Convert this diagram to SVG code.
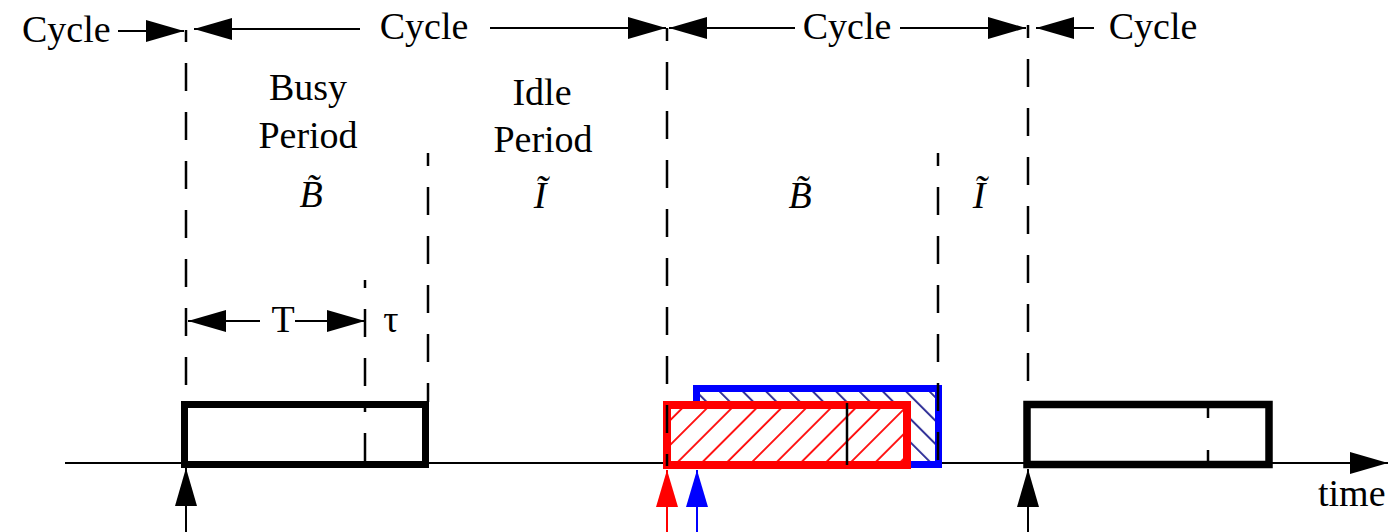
<svg xmlns="http://www.w3.org/2000/svg" width="1393" height="532" viewBox="0 0 1393 532">
<style>
.t{font-family:"Liberation Serif","Times New Roman",serif;font-size:38px;fill:#000}
.ti{font-family:"Liberation Serif","Times New Roman",serif;font-size:38px;font-style:italic;fill:#000}
.ln{stroke:#000;stroke-width:2;fill:none}
.dash{stroke:#000;stroke-width:2.5;fill:none;stroke-dasharray:28 21}
.tick{stroke:#000;stroke-width:2.5;fill:none}
.arr{marker-end:url(#ah)}
</style>
<defs>
<marker id="ah" markerUnits="userSpaceOnUse" markerWidth="40" markerHeight="24" refX="38" refY="11" orient="auto">
<path d="M0,0 L38,11 L0,22 z" fill="#000"/>
</marker>
<marker id="ahR" markerUnits="userSpaceOnUse" markerWidth="40" markerHeight="24" refX="37" refY="11" orient="auto">
<path d="M0,0 L37,11 L0,22 z" fill="#ff0000"/>
</marker>
<marker id="ahB" markerUnits="userSpaceOnUse" markerWidth="40" markerHeight="24" refX="37" refY="11" orient="auto">
<path d="M0,0 L37,11 L0,22 z" fill="#0000ff"/>
</marker>
<pattern id="hatchRed" patternUnits="userSpaceOnUse" width="17.5" height="17.5" patternTransform="rotate(45)">
<rect width="17.5" height="17.5" fill="#fff"/>
<line x1="1" y1="0" x2="1" y2="17.5" stroke="#ff0000" stroke-width="1.8"/>
</pattern>
<pattern id="hatchBlue" patternUnits="userSpaceOnUse" width="16.5" height="16.5" patternTransform="rotate(-45)">
<rect width="16.5" height="16.5" fill="#fff"/>
<line x1="1" y1="0" x2="1" y2="16.5" stroke="#333399" stroke-width="2"/>
</pattern>
</defs>
<rect width="1393" height="532" fill="#fff"/>

<g id="connectors">
<line class="ln arr" x1="118" y1="31" x2="184" y2="31"/>
<line class="ln arr" x1="360" y1="29" x2="194" y2="29"/>
<line class="ln arr" x1="490" y1="28" x2="666" y2="28"/>
<line class="ln arr" x1="795" y1="28" x2="669" y2="28"/>
<line class="ln arr" x1="900" y1="28" x2="1026" y2="28"/>
<line class="ln arr" x1="1094" y1="28" x2="1036" y2="28"/>
<line class="ln arr" x1="260" y1="321" x2="188" y2="321"/>
<line class="ln arr" x1="295" y1="321" x2="365" y2="321"/>
<line class="dash" x1="186" y1="30" x2="186" y2="404" stroke-dashoffset="16"/>
<line class="dash" x1="428" y1="153" x2="428" y2="402" stroke-dashoffset="15"/>
<line class="dash" x1="1028" y1="25" x2="1028" y2="404" stroke-dashoffset="15"/>
<line class="dash" x1="365" y1="280" x2="365" y2="404" stroke-dashoffset="20"/>
<line class="ln arr" x1="65" y1="463" x2="1388" y2="463"/>
<line class="ln arr" x1="186" y1="532" x2="186" y2="468"/>
<line class="ln arr" x1="1028" y1="532" x2="1028" y2="469"/>
<line x1="667" y1="532" x2="667" y2="470" stroke="#ff0000" stroke-width="2" marker-end="url(#ahR)"/>
<line x1="697" y1="532" x2="697" y2="470" stroke="#0000ff" stroke-width="2" marker-end="url(#ahB)"/>
</g>

<g id="busy1">
<rect x="184.5" y="404.5" width="241" height="60" fill="none" stroke="#000" stroke-width="7"/>
<line class="dash" x1="365" y1="404" x2="365" y2="465" stroke-dashoffset="20"/>
</g>

<g id="blue-busy">
<rect x="696.5" y="388.5" width="242" height="76" fill="url(#hatchBlue)" stroke="#0000ff" stroke-width="7"/>
</g>

<g id="red-busy">
<rect x="667" y="405" width="240" height="60" fill="url(#hatchRed)" stroke="#ff0000" stroke-width="8"/>
<line class="tick" x1="847" y1="403" x2="847" y2="465"/>
</g>

<g id="cycle-dashes">
<line class="dash" x1="667" y1="28" x2="667" y2="466" stroke-dashoffset="15"/>
<line class="dash" x1="938" y1="153" x2="938" y2="469" stroke-dashoffset="15"/>
</g>

<g id="busy3">
<rect x="1027" y="404.5" width="242" height="60" fill="none" stroke="#000" stroke-width="7.5"/>
<line class="tick" x1="1208" y1="405" x2="1208" y2="418"/>
<line class="tick" x1="1208" y1="450" x2="1208" y2="464"/>
</g>

<g id="labels">
<text class="t" x="22" y="42">Cycle</text>
<text class="t" x="424" y="39" text-anchor="middle">Cycle</text>
<text class="t" x="847" y="39" text-anchor="middle">Cycle</text>
<text class="t" x="1153" y="39" text-anchor="middle">Cycle</text>
<text class="t" x="308" y="100" text-anchor="middle">Busy</text>
<text class="t" x="308" y="148" text-anchor="middle">Period</text>
<text class="t" x="542" y="105" text-anchor="middle">Idle</text>
<text class="t" x="543" y="152" text-anchor="middle">Period</text>
<text class="ti" x="311" y="207" text-anchor="middle">B&#x303;</text>
<text class="ti" x="540" y="208" text-anchor="middle">I&#x303;</text>
<text class="ti" x="800" y="208" text-anchor="middle">B&#x303;</text>
<text class="ti" x="979" y="208" text-anchor="middle">I&#x303;</text>
<text class="t" x="283" y="332" text-anchor="middle">T</text>
<text class="t" x="391" y="332" text-anchor="middle">τ</text>
<text class="t" x="1318" y="506">time</text>
</g>
</svg>
